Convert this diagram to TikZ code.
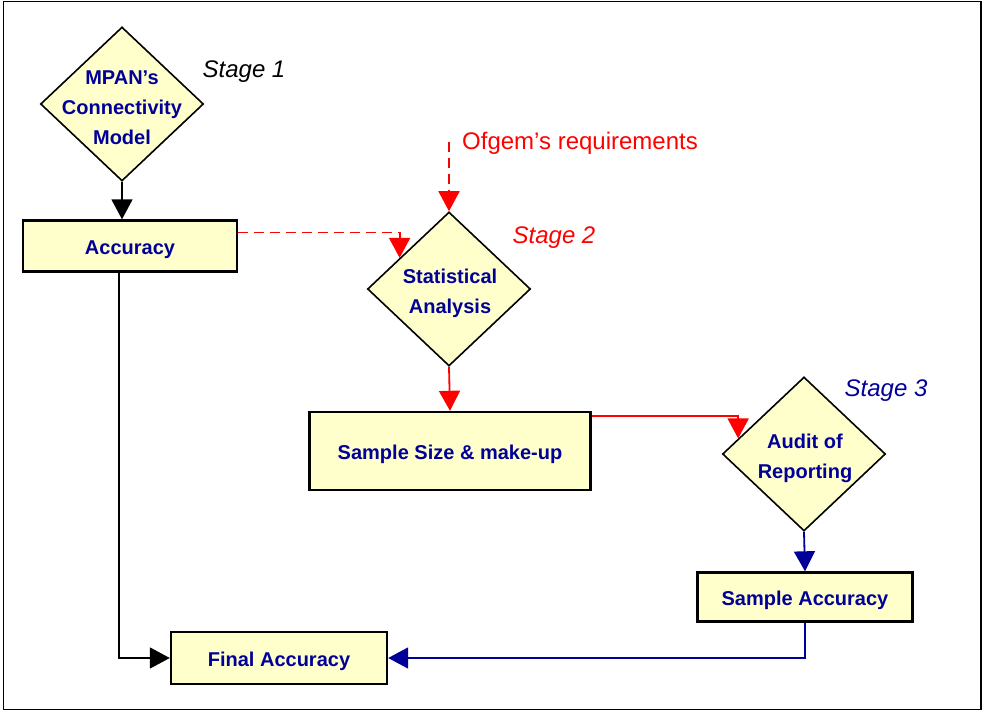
\documentclass[tikz,border=0pt]{standalone}
\usepackage{fontspec}
\setmainfont{Liberation Sans}
\usetikzlibrary{shapes.geometric,arrows.meta,calc}
\definecolor{boxfill}{HTML}{FFFFCC}
\definecolor{navy}{HTML}{000099}
\definecolor{redline}{HTML}{FF0000}

\begin{document}
\begin{tikzpicture}[x=1pt,y=-1pt,
    box/.style={draw,line width=2.4pt,fill=boxfill,text=navy,inner sep=0pt,
      text height=16pt,text depth=0pt,font=\bfseries\fontsize{20}{30}\selectfont},
    dia/.style={draw,diamond,line width=1.6pt,fill=boxfill,inner sep=0pt,
      minimum width=163pt,minimum height=154pt},
    diatext/.style={text=navy,align=center,font=\bfseries\fontsize{20}{30}\selectfont},
    stage/.style={font=\itshape\fontsize{24}{28}\selectfont},
    tip/.style={-{Triangle[length=20pt,width=21pt]}},
    flow/.style={line width=1.8pt},
    reddash/.style={redline,dash pattern=on 10pt off 6pt}]
  \useasboundingbox (0,0) rectangle (985,712);
  \draw[line width=1.5pt] (3.5,1.5) rectangle (981,709.5);

  % stage 1
  \node[dia] (mpan) at (122,104) {};
  \node[diatext] (mpantxt) at (122,108) {MPAN's\\Connectivity\\Model};
  \node[stage] (st1) at (244,72) {Stage 1};
  \node[box,minimum width=214pt,minimum height=51pt] (acc) at (130,246) {Accuracy};

  % stage 2
  \node[dia] (stat) at (449,289) {};
  \node[diatext] (stattxt) at (450,293) {Statistical\\Analysis};
  \node[stage,text=redline] (st2) at (554,238) {Stage 2};
  \node[anchor=west,inner sep=2pt,text=redline,font=\fontsize{24}{28}\selectfont] (ofgem) at (460,143) {Ofgem's requirements};
  \node[box,minimum width=281pt,minimum height=78pt] (samp) at (450,451) {Sample Size \& make-up};

  % stage 3
  \node[dia] (audit) at (804,454) {};
  \node[diatext] (audittxt) at (805,458) {Audit of\\Reporting};
  \node[stage,text=navy] (st3) at (886,391) {Stage 3};
  \node[box,minimum width=215pt,minimum height=49pt] (sacc) at (805,597) {Sample Accuracy};

  \node[box,minimum width=216pt,minimum height=52pt] (final) at (279,658) {Final Accuracy};

  % connectors
  \coordinate (in2) at ($(stat.west)!0.4!(stat.north)$);
  \coordinate (in3) at ($(audit.west)!0.2!(audit.north)$);
  \draw[flow,tip] (mpan.south) -- (acc.north -| mpan.south);
  \draw[flow,tip,reddash] ([yshift=13.5pt]acc.east) -| (in2);
  \draw[flow,tip,reddash] ([yshift=1pt]ofgem.west -| stat.north) -- (stat.north);
  \draw[flow,tip,redline] (stat.south) -- (samp.north);
  \draw[flow,tip,redline] ([yshift=-5pt]samp.north east) -| (in3);
  \draw[flow,tip,navy] (audit.south) -- (sacc.north);
  \draw[flow,tip,navy] (sacc.south) |- (final.east);
  \draw[flow,tip] ([xshift=-11pt]acc.south) |- (final.west);
\end{tikzpicture}
\end{document}
